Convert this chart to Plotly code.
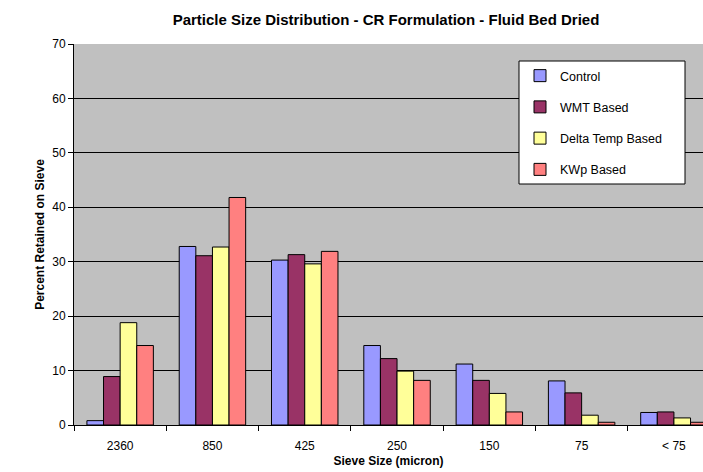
import plotly.graph_objects as go

categories = ["2360", "850", "425", "250", "150", "75", "< 75"]
series_names = ["Control", "WMT Based", "Delta Temp Based", "KWp Based"]
control = [0.8, 32.8, 30.3, 14.6, 11.2, 8.1, 2.3]
wmt = [8.9, 31.1, 31.3, 12.2, 8.2, 5.9, 2.4]
delta_temp = [18.8, 32.7, 29.6, 9.9, 5.8, 1.8, 1.3]
kwp = [14.6, 41.8, 31.9, 8.2, 2.4, 0.5, 0.5]
colors = ["#9999FF", "#993366", "#FFFF99", "#FF8080"]

fig = go.Figure()
for i, (name, vals) in enumerate(zip(series_names, [control, wmt, delta_temp, kwp])):
    fig.add_trace(go.Bar(
        x=categories, y=vals, name=name, legendgroup=name,
        marker=dict(color=colors[i], line=dict(color="black", width=1)),
    ))

W, H = 703, 472
L, T, B = 74, 44, 47
PW, PH = W - L, H - T - B
fig.update_layout(
    width=W, height=H,
    margin=dict(l=L, r=0, t=T, b=B, pad=0),
    paper_bgcolor="white", plot_bgcolor="#C0C0C0",
    barmode="group", bargap=0.28, bargroupgap=0,
    font=dict(family="Liberation Sans, Arial", size=12, color="black"),
    title=dict(text="<b>Particle Size Distribution - CR Formulation - Fluid Bed Dried</b>",
               x=386 / W, xref="container", xanchor="center",
               y=1 - 20 / H, yref="container", yanchor="middle",
               font=dict(size=15)),
    showlegend=True,
    legend=dict(x=(520 - L) / PW, y=1 - (61 - T) / PH,
                xanchor="left", yanchor="top",
                bgcolor="rgba(0,0,0,0)", borderwidth=0,
                font=dict(size=12.5), tracegroupgap=12,
                traceorder="grouped"),
    xaxis=dict(type="category", range=[-0.5, 6.315], tickson="boundaries",
               ticks="outside", ticklen=5, tickcolor="black",
               ticklabelposition="outside", ticklabelstandoff=10,
               showline=True, linecolor="black", linewidth=1,
               showgrid=False, tickfont=dict(size=12),
               title=dict(text="<b>Sieve Size (micron)</b>", font=dict(size=12), standoff=4)),
    yaxis=dict(range=[0, 70], dtick=10, ticks="outside", ticklen=5, tickcolor="black",
               showline=True, linecolor="black", linewidth=1,
               showgrid=True, gridcolor="black", gridwidth=1, zeroline=False,
               tickfont=dict(size=12),
               title=dict(text="<b>Percent Retained on Sieve</b>", font=dict(size=12), standoff=5)),
    shapes=[dict(type="rect", xref="paper", yref="paper",
                 x0=(519 - L) / PW, x1=(685 - L) / PW,
                 y0=1 - (184 - T) / PH, y1=1 - (61 - T) / PH,
                 fillcolor="white", line=dict(color="black", width=1), layer="above")],
)

fig.write_html("out.html")
